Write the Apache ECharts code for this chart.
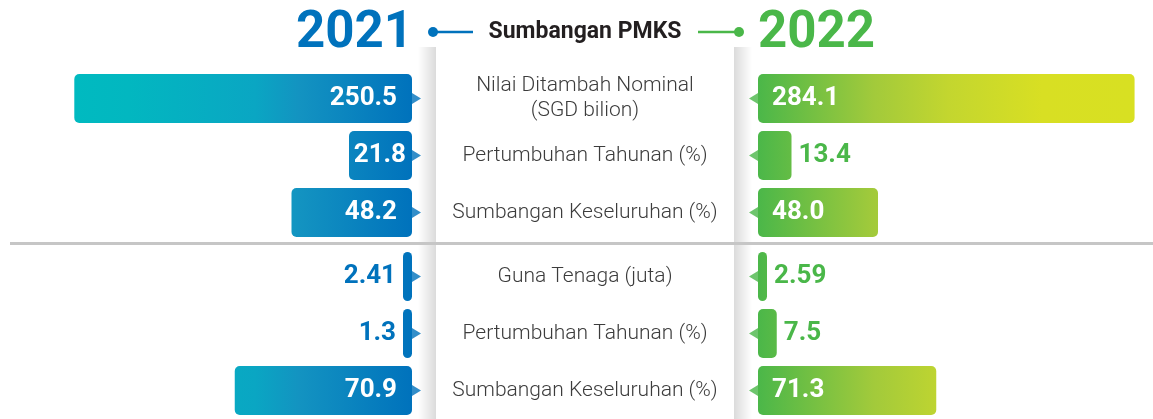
<!DOCTYPE html>
<html>
<head>
<meta charset="utf-8">
<script src="https://cdn.jsdelivr.net/npm/echarts@6/dist/echarts.min.js"></script>
<style>
  html, body { margin: 0; padding: 0; background: #fff; }
  #pmksChart { width: 1153px; height: 419px; }
</style>
</head>
<body>
<div id="pmksChart"></div>
<script>
const years = ["2021", "2022"];
const heading = "Sumbangan PMKS";
const categories = [
  "Nilai Ditambah Nominal\n(SGD bilion)",
  "Pertumbuhan Tahunan (%)",
  "Sumbangan Keseluruhan (%)",
  "Guna Tenaga (juta)",
  "Pertumbuhan Tahunan (%)",
  "Sumbangan Keseluruhan (%)",
];
const values2021 = [250.5, 21.8, 48.2, 2.41, 1.3, 70.9];
const values2022 = [284.1, 13.4, 48.0, 2.59, 7.5, 71.3];
const decimals = [1, 1, 1, 2, 1, 1];

const BLUE = "#0072BC";
const GREEN = "#4AB749";
const FONT = "Roboto";

// global gradients so short bars only show the start of the ramp
const leftFill = new echarts.graphic.LinearGradient(71, 0, 412, 0, [
  { offset: 0, color: "#00BAC0" },
  { offset: 0.17, color: "#02B7C0" },
  { offset: 0.54, color: "#0AA6C3" },
  { offset: 0.67, color: "#1393C1" },
  { offset: 1, color: "#0072BC" },
], true);
const rightFill = new echarts.graphic.LinearGradient(758, 0, 1131, 0, [
  { offset: 0, color: "#4BB749" },
  { offset: 0.31, color: "#A2CA3B" },
  { offset: 0.51, color: "#C3D62F" },
  { offset: 0.76, color: "#D8DF23" },
  { offset: 1, color: "#D8E022" },
], true);

const makeItem = (vals, i, side) => {
  const v = vals[i];
  const text = v.toFixed(decimals[i]);
  const inside = v >= 20;
  let label;
  if (side === "left") {
    label = inside
      ? { position: "insideRight", distance: v < 30 ? 6 : 15, color: "#fff" }
      : { position: "left", distance: 7, color: BLUE };
  } else {
    label = inside
      ? { position: "insideLeft", distance: 14, color: "#fff" }
      : { position: "right", distance: 7, color: GREEN };
  }
  label.formatter = text;
  return { value: v, label: label };
};

const rowData = (vals, side, idx, from, to) =>
  idx.map((i) => (i >= from && i <= to ? makeItem(vals, i, side) : "-"));

const barBase = {
  type: "bar",
  barWidth: 49,
  barGap: "-100%",
  label: {
    show: true,
    fontFamily: FONT,
    fontWeight: "bold",
    fontSize: 26,
  },
};

const bar = (extra) => Object.assign({}, barBase, extra, {
  label: Object.assign({}, barBase.label),
});

const notch = (xi, yi, side) => ({
  type: "scatter",
  xAxisIndex: xi,
  yAxisIndex: yi,
  clip: false,
  silent: true,
  symbol: "triangle",
  symbolSize: [11, 9],
  symbolRotate: side === "left" ? -90 : 90,
  symbolOffset: [side === "left" ? 4.5 : -4.5, 0],
  itemStyle: { color: side === "left" ? BLUE : GREEN },
  data: [[0, 0], [0, 1], [0, 2]],
});

const centerLabel = {
  margin: 173,
  align: "center",
  fontFamily: FONT,
  fontWeight: 300,
  fontSize: 21,
  lineHeight: 25,
  color: "#3C3C3C",
};

const hiddenX = (grid, max, inverse, pos) => ({
  type: "value",
  gridIndex: grid,
  min: 0,
  max: max,
  inverse: inverse,
  position: pos,
  show: false,
  splitLine: { show: false },
});

const catY = (grid, data, showLabel) => ({
  type: "category",
  gridIndex: grid,
  data: data,
  inverse: true,
  show: showLabel,
  axisLine: { show: false },
  axisTick: { show: false },
  axisLabel: centerLabel,
});

const chart = echarts.init(document.getElementById("pmksChart"));
const top3 = [0, 1, 2];
const bottom3 = [3, 4, 5];

chart.setOption({
  animation: false,
  grid: [
    { left: 17, width: 395, top: 70, height: 171 },
    { left: 758, width: 395, top: 70, height: 171 },
    { left: 17, width: 395, top: 248, height: 171 },
    { left: 758, width: 395, top: 248, height: 171 },
  ],
  xAxis: [
    hiddenX(0, 158, true, "bottom"),
    hiddenX(0, 293, true, "top"),
    hiddenX(1, 158, false, "bottom"),
    hiddenX(1, 298, false, "top"),
    hiddenX(2, 158, true, "bottom"),
    hiddenX(3, 158, false, "bottom"),
  ],
  yAxis: [
    catY(0, categories.slice(0, 3), false),
    catY(1, categories.slice(0, 3), true),
    catY(2, categories.slice(3), false),
    catY(3, categories.slice(3), true),
  ],
  graphic: [
    {
      type: "rect", z: 0,
      shape: { x: 418, y: 47, width: 18, height: 372 },
      style: { fill: { type: "linear", x: 0, y: 0, x2: 1, y2: 0,
        colorStops: [{ offset: 0, color: "rgba(0,0,0,0)" }, { offset: 1, color: "rgba(0,0,0,0.14)" }] } },
    },
    {
      type: "rect", z: 0,
      shape: { x: 734, y: 47, width: 18, height: 372 },
      style: { fill: { type: "linear", x: 0, y: 0, x2: 1, y2: 0,
        colorStops: [{ offset: 0, color: "rgba(0,0,0,0.14)" }, { offset: 1, color: "rgba(0,0,0,0)" }] } },
    },
    {
      type: "rect", z: 1,
      shape: { x: 10, y: 242, width: 1143, height: 3 },
      style: { fill: "#C6C6C6" },
    },
    {
      type: "text", z: 1,
      style: { text: years[0], x: 413, y: 34, font: "bold 51px " + FONT, fill: BLUE,
        textAlign: "right", textVerticalAlign: "middle", align: "right", verticalAlign: "middle" },
    },
    {
      type: "text", z: 1,
      style: { text: years[1], x: 758, y: 34, font: "bold 51px " + FONT, fill: GREEN,
        textAlign: "left", textVerticalAlign: "middle", align: "left", verticalAlign: "middle" },
    },
    {
      type: "text", z: 1,
      style: { text: heading, x: 585, y: 32, font: "bold 23px " + FONT, fill: "#231F20",
        textAlign: "center", textVerticalAlign: "middle", align: "center", verticalAlign: "middle" },
    },
    { type: "line", z: 1, shape: { x1: 433, y1: 32, x2: 473, y2: 32 }, style: { stroke: BLUE, lineWidth: 2.5 } },
    { type: "circle", z: 1, shape: { cx: 433, cy: 32, r: 5 }, style: { fill: BLUE } },
    { type: "line", z: 1, shape: { x1: 698, y1: 32, x2: 739, y2: 32 }, style: { stroke: GREEN, lineWidth: 2.5 } },
    { type: "circle", z: 1, shape: { cx: 739, cy: 32, r: 5 }, style: { fill: GREEN } },
  ],
  series: [
    bar({ name: years[0], xAxisIndex: 1, yAxisIndex: 0, itemStyle: { color: leftFill, borderRadius: 5 },
      data: rowData(values2021, "left", top3, 0, 0) }),
    bar({ name: years[0], xAxisIndex: 0, yAxisIndex: 0, barMinHeight: 63, itemStyle: { color: leftFill, borderRadius: 5 },
      data: rowData(values2021, "left", top3, 1, 2) }),
    bar({ name: years[1], xAxisIndex: 3, yAxisIndex: 1, itemStyle: { color: rightFill, borderRadius: 5 },
      data: rowData(values2022, "right", top3, 0, 0) }),
    bar({ name: years[1], xAxisIndex: 2, yAxisIndex: 1, itemStyle: { color: rightFill, borderRadius: 5 },
      data: rowData(values2022, "right", top3, 1, 2) }),
    bar({ name: years[0], xAxisIndex: 4, yAxisIndex: 2, barMinHeight: 9, itemStyle: { color: leftFill, borderRadius: 5 },
      data: rowData(values2021, "left", bottom3, 3, 5) }),
    bar({ name: years[1], xAxisIndex: 5, yAxisIndex: 3, barMinHeight: 9, itemStyle: { color: rightFill, borderRadius: 5 },
      data: rowData(values2022, "right", bottom3, 3, 5) }),
    notch(0, 0, "left"),
    notch(2, 1, "right"),
    notch(4, 2, "left"),
    notch(5, 3, "right"),
  ],
});

window.addEventListener("resize", () => {
  chart.resize();
});
</script>
</body>
</html>
